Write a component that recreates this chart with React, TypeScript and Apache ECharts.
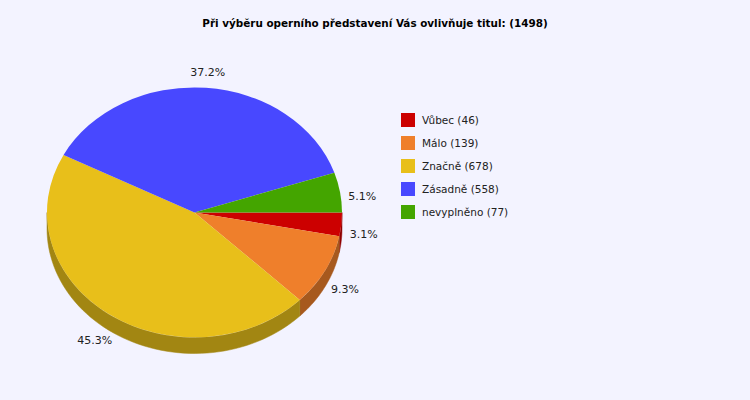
import React, { useEffect, useRef } from "react";
import * as echarts from "echarts";

const categories = ["Vůbec", "Málo", "Značně", "Zásadně", "nevyplněno"];
const counts = [46, 139, 678, 558, 77];
const palette = ["#cc0000", "#ef7f2b", "#e8bf1a", "#4848ff", "#44a500"];

const total = counts.reduce((a, b) => a + b, 0);
const cumulative: number[] = [0];
counts.forEach((c, i) => cumulative.push(cumulative[i] + c));

const CX = 194.5;
const CY = 212.5;
const RX = 147.5;
const RY = 125;
const DEPTH = 16;
const LABEL_RX = 170;
const LABEL_RY = 148;
const LABEL_DY = 8;

function darken(hex: string, f: number) {
  const n = parseInt(hex.slice(1), 16);
  const r = Math.round(((n >> 16) & 255) * f);
  const g = Math.round(((n >> 8) & 255) * f);
  const b = Math.round((n & 255) * f);
  return `rgb(${r},${g},${b})`;
}

export default function App() {
  const ref = useRef<HTMLDivElement>(null);
  useEffect(() => {
    if (!ref.current) return;
    const chart = echarts.init(ref.current, undefined, { renderer: "svg" });
    const series = categories.map((cat, i) => {
      const color = palette[i];
      return {
        type: "custom",
        name: `${cat} (${counts[i]})`,
        coordinateSystem: "none",
        color,
        itemStyle: { color },
        silent: true,
        data: [[i]],
        renderItem: () => {
          const start = (cumulative[i] / total) * Math.PI * 2;
          const end = (cumulative[i + 1] / total) * Math.PI * 2;
          const children: any[] = [];
          const s = Math.max(start, 0);
          const e = Math.min(end, Math.PI);
          if (e > s) {
            const n = 60;
            const top: number[][] = [];
            const bottom: number[][] = [];
            for (let k = 0; k <= n; k++) {
              const t = s + ((e - s) * k) / n;
              const x = CX + RX * Math.cos(t);
              const y = CY + RY * Math.sin(t);
              top.push([x, y]);
              bottom.push([x, y + DEPTH]);
            }
            children.push({
              type: "polygon",
              shape: { points: top.concat(bottom.reverse()) },
              style: { fill: darken(color, 0.7), stroke: darken(color, 0.7), lineWidth: 0.5 },
            });
          }
          children.push({
            type: "sector",
            shape: { cx: CX, cy: CY, r: RX, r0: 0, startAngle: start, endAngle: end, clockwise: true },
            scaleY: RY / RX,
            originX: CX,
            originY: CY,
            style: { fill: color },
          });
          const mid = (start + end) / 2;
          const pct = ((counts[i] / total) * 100).toFixed(1) + "%";
          children.push({
            type: "text",
            x: CX + LABEL_RX * Math.cos(mid),
            y: CY + LABEL_DY + LABEL_RY * Math.sin(mid),
            style: {
              text: pct,
              fill: "#222",
              font: "11px 'DejaVu Sans'",
              align: "center",
              verticalAlign: "middle",
            },
          });
          return { type: "group", children };
        },
      };
    });
    chart.setOption({
      animation: false,
      backgroundColor: "#f3f3ff",
      title: {
        text: `Při výběru operního představení Vás ovlivňuje titul: (${total})`,
        left: "center",
        top: 16,
        padding: 0,
        textStyle: { fontFamily: "DejaVu Sans", fontWeight: "bold", fontSize: 10.4, color: "#000", lineHeight: 14 },
      },
      legend: {
        orient: "vertical",
        left: 401,
        top: 113,
        padding: 0,
        icon: "rect",
        itemWidth: 14,
        itemHeight: 14,
        itemGap: 9,
        selectedMode: false,
        data: series.map((s) => s.name),
        textStyle: { fontFamily: "DejaVu Sans", fontSize: 10.5, color: "#222", padding: [2, 0, 0, 2] },
      },
      series,
    } as any);
    return () => chart.dispose();
  }, []);
  return <div ref={ref} style={{ position: "fixed", left: 0, top: 0, width: 750, height: 400 }} />;
}
